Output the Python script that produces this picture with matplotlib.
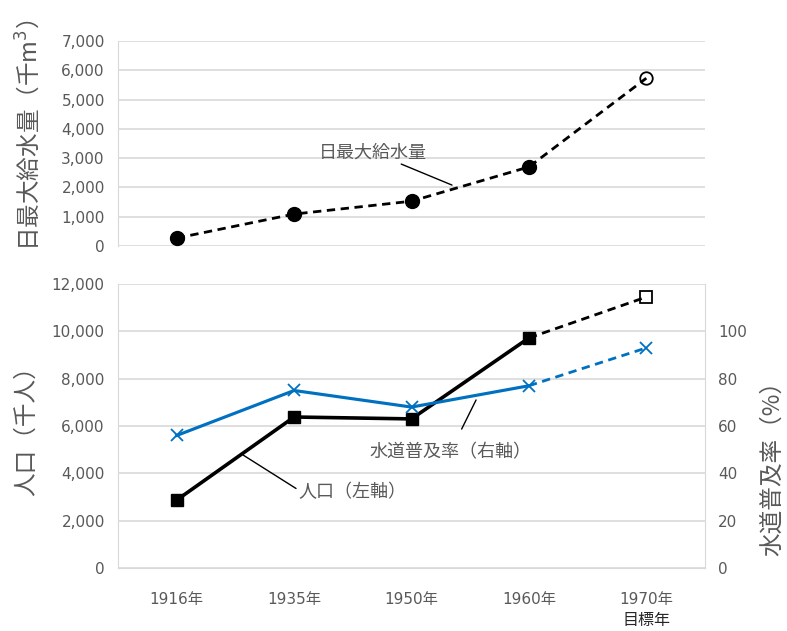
import matplotlib
matplotlib.use("Agg")
import matplotlib.pyplot as plt
import numpy as np

plt.rcParams['font.family'] = ['DejaVu Sans', 'Noto Sans CJK JP']
CJK = ['Noto Sans CJK JP', 'DejaVu Sans']

# data
years = ['1916年', '1935年', '1950年', '1960年', '1970年']
supply = [270, 1090, 1530, 2700, 5730]          # 日最大給水量 (千m3)
population = [2870, 6380, 6300, 9720, 11450]    # 人口 (千人)
rate = [56, 75, 68, 77, 93]                     # 水道普及率 (%)

grid_c = '#D9D9D9'
tick_c = '#595959'
blue = '#0070C0'
x = np.arange(len(years))

fig = plt.figure(figsize=(7.87, 6.31), dpi=100)

# --- top: daily maximum supply ---
ax1 = fig.add_axes([118 / 787, 1 - 246 / 631, 587 / 787, 205 / 631])
ax1.set_xlim(-0.5, len(years) - 0.5)
ax1.set_ylim(0, 7000)
ax1.set_yticks(np.arange(0, 7001, 1000))
ax1.set_yticklabels([f'{v:,}' for v in range(0, 7001, 1000)])
ax1.set_xticks([])
ax1.yaxis.grid(True, color=grid_c, lw=1.2)
ax1.set_axisbelow(True)
for s in ['top', 'right', 'bottom']:
    ax1.spines[s].set_visible(False)
ax1.spines['left'].set_color(grid_c)
ax1.tick_params(axis='y', length=0, labelsize=11, labelcolor=tick_c, pad=9.5)

ax1.plot(x, supply, color='black', lw=2, ls=(0, (3, 2)), zorder=3)
ax1.plot(x[:-1], supply[:-1], ls='none', marker='o', ms=10, color='black', zorder=4)
ax1.plot(x[-1:], supply[-1:], ls='none', marker='o', ms=9, mfc='none', mec='black', mew=1.3, zorder=4)
ax1.annotate('日最大給水量', xy=(2.345, 2080), xytext=(2.13, 3200),
             ha='right', va='center', fontsize=13, color=tick_c, family=CJK,
             arrowprops=dict(arrowstyle='-', color='black', lw=1, shrinkA=0, shrinkB=0))

# --- bottom: population and water supply rate ---
ax2 = fig.add_axes([118 / 787, 1 - 568 / 631, 587 / 787, 284 / 631])
ax2.set_xlim(-0.5, len(years) - 0.5)
ax2.set_ylim(0, 12000)
ax2.set_yticks(np.arange(0, 12001, 2000))
ax2.set_yticklabels([f'{v:,}' for v in range(0, 12001, 2000)])
ax2.set_xticks(x)
ax2.set_xticklabels(years)
ax2.yaxis.grid(True, color=grid_c, lw=1.2)
ax2.set_axisbelow(True)
ax2.spines['top'].set_visible(False)
for s in ['left', 'right', 'bottom']:
    ax2.spines[s].set_color(grid_c)
ax2.tick_params(axis='y', length=0, labelsize=11, labelcolor=tick_c, pad=9.5)
ax2.tick_params(axis='x', length=0, labelsize=11, labelcolor=tick_c, pad=17)
ax2.text(x[-1], -0.185, '目標年', transform=ax2.get_xaxis_transform(),
         ha='center', va='center', fontsize=11.5, color='#262626', family=CJK)

ax3 = ax2.twinx()
ax3.set_ylim(0, 120)
ax3.set_yticks(np.arange(0, 101, 20))
for s in ['top', 'left', 'right', 'bottom']:
    ax3.spines[s].set_visible(False)
ax3.tick_params(axis='y', length=0, labelsize=11, labelcolor=tick_c, pad=9.5)

ax2.plot(x[-2:], population[-2:], color='black', lw=2, ls=(0, (3, 2)), zorder=3)
ax2.plot(x[:-1], population[:-1], color='black', lw=2.6, marker='s', ms=9, zorder=4)
ax2.plot(x[-1:], population[-1:], ls='none', marker='s', ms=9, mfc='none', mec='black', mew=1.3, zorder=4)

ax3.plot(x[-2:], rate[-2:], color=blue, lw=2, ls=(0, (3, 2)), zorder=3)
ax3.plot(x[:-1], rate[:-1], color=blue, lw=2.25, marker='x', ms=9, mew=1.3, zorder=4)
ax3.plot(x[-1:], rate[-1:], ls='none', marker='x', ms=9, mew=1.3, color=blue, zorder=4)

ax3.annotate('水道普及率（右軸）', xy=(2.55, 71), xytext=(2.33, 49),
             ha='center', va='center', fontsize=13, color=tick_c, family=CJK,
             arrowprops=dict(arrowstyle='-', color='black', lw=1, shrinkA=9, shrinkB=0))
ax2.annotate('人口（左軸）', xy=(0.565, 4775), xytext=(1.5, 3210),
             ha='center', va='center', fontsize=13, color=tick_c, family=CJK,
             arrowprops=dict(arrowstyle='-', color='black', lw=1, shrinkA=0, shrinkB=0,
                             relpos=(0, 0.6)))

# axis titles
fig.text(28 / 787, 1 - 135 / 631, '日最大給水量（千m$^3$）', rotation=90, ha='center', va='center',
         fontsize=17, color=tick_c, family=CJK)
fig.text(26 / 787, 1 - 425 / 631, '人口（千人）', rotation=90, ha='center', va='center',
         fontsize=17, color=tick_c, family=CJK)
fig.text(773 / 787, 1 - 462 / 631, '水道普及率（%）', rotation=90, ha='center', va='center',
         fontsize=17, color=tick_c, family=CJK)

fig.savefig('out.png', dpi=100)
